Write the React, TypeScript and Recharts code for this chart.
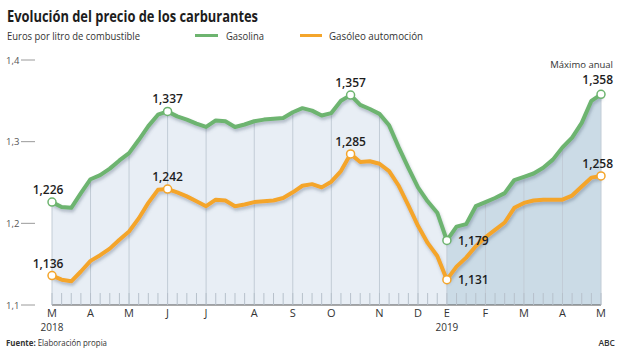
import React from 'react';
import { Area, ComposedChart, Line, ReferenceLine, XAxis, YAxis } from 'recharts';

// weekly average price, euros per litre (Mar 2018 -> May 2019)
const GASOLINA = [
  1.226, 1.22, 1.219, 1.237, 1.254, 1.259, 1.267, 1.277, 1.286, 1.302,
  1.319, 1.333, 1.337, 1.331, 1.327, 1.322, 1.318, 1.326, 1.325, 1.318,
  1.321, 1.325, 1.327, 1.328, 1.329, 1.336, 1.341, 1.338, 1.332, 1.335,
  1.35, 1.357, 1.345, 1.34, 1.334, 1.32, 1.293, 1.268, 1.244, 1.227,
  1.213, 1.179, 1.196, 1.199, 1.221, 1.226, 1.231, 1.237, 1.253, 1.257,
  1.261, 1.268, 1.278, 1.293, 1.305, 1.323, 1.35, 1.358,
];
const GASOLEO = [
  1.136, 1.131, 1.129, 1.141, 1.154, 1.161, 1.169, 1.18, 1.19, 1.206,
  1.225, 1.241, 1.242, 1.238, 1.233, 1.227, 1.221, 1.229, 1.228, 1.221,
  1.223, 1.226, 1.227, 1.228, 1.231, 1.238, 1.246, 1.248, 1.244, 1.251,
  1.264, 1.285, 1.275, 1.276, 1.273, 1.264, 1.246, 1.222, 1.197, 1.176,
  1.16, 1.131, 1.147, 1.158, 1.172, 1.183, 1.192, 1.201, 1.219, 1.225,
  1.228, 1.229, 1.229, 1.229, 1.234, 1.245, 1.256, 1.258,
];
const MONTH_LABELS = ['M', 'A', 'M', 'J', 'J', 'A', 'S', 'O', 'N', 'D', 'E', 'F', 'M', 'A', 'M'];
const MONTH_WEEKS = [0, 4, 8, 12, 16, 21, 25, 29, 34, 38, 41, 45, 49, 53, 57];
const YEAR_LABELS = ['2018', '2019'];
const YEAR_WEEKS = [0, 41];
const Y_TICKS = [1.1, 1.2, 1.3, 1.4];

const GREEN = '#6db46f';
const ORANGE = '#f4a52b';
const FILL_2018 = '#e8eef5';
const FILL_2019 = '#cbdbe6';
const TEXT = '#1d1d1d';
const FONT = "'Open Sans', sans-serif";

const data = GASOLINA.map((gasolina, week) => ({ week, gasolina, gasoleo: GASOLEO[week] }));
const split = YEAR_WEEKS[1] / (GASOLINA.length - 1);

const comma = (v: number, d: number) => v.toFixed(d).replace('.', ',');

type Callout = { week: number; pos: 'top' | 'right' | 'end'; dx?: number; dy?: number; note?: string };

const GAS_CALLOUTS: Callout[] = [
  { week: 0, pos: 'top', dx: -4 },
  { week: 12, pos: 'top' },
  { week: 31, pos: 'top' },
  { week: 41, pos: 'right' },
  { week: 57, pos: 'end', dy: -10, note: 'Máximo anual' },
];
const DIESEL_CALLOUTS: Callout[] = [
  { week: 0, pos: 'top', dx: -4 },
  { week: 12, pos: 'top' },
  { week: 31, pos: 'top' },
  { week: 41, pos: 'right' },
  { week: 57, pos: 'end', dy: -8 },
];

const makeDot = (key: 'gasolina' | 'gasoleo', color: string, callouts: Callout[]) => (props: any) => {
  const { cx, cy, index, payload } = props;
  const c = callouts.find((k) => k.week === index);
  if (!c) return <g key={`${key}-${index}`} />;
  const label = comma(payload[key], 3);
  let tx = cx;
  let ty = cy - 8;
  let anchor: 'middle' | 'start' | 'end' = 'middle';
  if (c.pos === 'right') {
    tx = cx + 11;
    ty = cy + 4.5;
    anchor = 'start';
  } else if (c.pos === 'end') {
    tx = cx + 12;
    ty = cy + (c.dy ?? -8);
    anchor = 'end';
  }
  tx += c.dx ?? 0;
  return (
    <g key={`${key}-${index}`}>
      <circle cx={cx} cy={cy} r={4} fill="#fff" stroke={color} strokeWidth={1.5} />
      <text x={tx} y={ty} textAnchor={anchor} fontFamily={FONT} fontSize={12} fontWeight={600} fill={TEXT}>
        {label}
      </text>
      {c.note && (
        <text x={tx} y={ty - 16} textAnchor={anchor} fontFamily={FONT} fontSize={9.5} fill="#333">
          {c.note}
        </text>
      )}
    </g>
  );
};

const WeekTick = (props: any) => {
  const { x, y, payload } = props;
  const week = payload.value as number;
  const m = MONTH_WEEKS.indexOf(week);
  const yr = YEAR_WEEKS.indexOf(week);
  return (
    <g>
      <line x1={x} x2={x} y1={y - 12} y2={y} stroke="#b7c1cb" strokeWidth={1} />
      {m >= 0 && (
        <text x={x} y={y + 12} textAnchor="middle" fontFamily={FONT} fontSize={11} fill="#333">
          {MONTH_LABELS[m]}
        </text>
      )}
      {yr >= 0 && (
        <text x={x} y={y + 26} textAnchor="middle" fontFamily={FONT} fontSize={10} fill="#333">
          {YEAR_LABELS[yr]}
        </text>
      )}
    </g>
  );
};

const PriceTick = (props: any) => {
  const { y, payload } = props;
  return (
    <g>
      <text x={6} y={y + 3.5} fontFamily={FONT} fontSize={9.5} fill="#555">
        {comma(payload.value, 1)}
      </text>
      <line x1={21} x2={35} y1={y} y2={y} stroke="#9a9a9a" strokeWidth={1} />
    </g>
  );
};

export default function App() {
  return (
    <div style={{ position: 'fixed', left: 0, top: 0, width: 620, height: 349, background: '#fff', overflow: 'hidden' }}>
      <svg width={620} height={349} style={{ position: 'absolute', left: 0, top: 0 }}>
        <defs>
          <linearGradient id="yearFill" x1="0" y1="0" x2="1" y2="0">
            <stop offset={0} stopColor={FILL_2018} />
            <stop offset={split} stopColor={FILL_2018} />
            <stop offset={split} stopColor={FILL_2019} />
            <stop offset={1} stopColor={FILL_2019} />
          </linearGradient>
          <filter id="lineShadow" x="-5%" y="-20%" width="110%" height="140%">
            <feDropShadow dx="1" dy="2.5" stdDeviation="1.8" floodColor="#44546a" floodOpacity="0.35" />
          </filter>
        </defs>
        <text x={7} y={22} fontFamily={FONT} fontSize={15.5} fontWeight={700} fill={TEXT} textLength={251} lengthAdjust="spacingAndGlyphs">
          Evolución del precio de los carburantes
        </text>
        <text x={7} y={39.5} fontFamily={FONT} fontSize={11.5} fill="#333" textLength={133} lengthAdjust="spacingAndGlyphs">
          Euros por litro de combustible
        </text>
        <line x1={195} x2={218} y1={35.5} y2={35.5} stroke={GREEN} strokeWidth={3} />
        <text x={226} y={39.5} fontFamily={FONT} fontSize={11.5} fill="#333" textLength={38} lengthAdjust="spacingAndGlyphs">
          Gasolina
        </text>
        <line x1={300} x2={322} y1={35.5} y2={35.5} stroke={ORANGE} strokeWidth={3} />
        <text x={329} y={39.5} fontFamily={FONT} fontSize={11.5} fill="#333" textLength={94} lengthAdjust="spacingAndGlyphs">
          Gasóleo automoción
        </text>
        <text x={6} y={346} fontFamily={FONT} fontSize={8.5} fill="#333" textLength={101} lengthAdjust="spacingAndGlyphs">
          <tspan fontWeight={700}>Fuente:</tspan> Elaboración propia
        </text>
        <text x={615} y={346} textAnchor="end" fontFamily={FONT} fontSize={8.5} fontWeight={600} fill="#333">
          ABC
        </text>
      </svg>
      <div style={{ position: 'absolute', left: 0, top: 0 }}>
        <ComposedChart width={620} height={349} data={data} margin={{ top: 60, right: 19, bottom: 0, left: 0 }}>
          <Area
            dataKey="gasolina"
            stroke="none"
            fill="url(#yearFill)"
            fillOpacity={1}
            isAnimationActive={false}
            activeDot={false}
          />
          {MONTH_WEEKS.map((w) => (
            <ReferenceLine
              key={w}
              segment={[
                { x: w, y: Y_TICKS[0] },
                { x: w, y: GASOLINA[w] },
              ]}
              stroke="#c2ccd6"
              strokeWidth={1}
            />
          ))}
          <XAxis
            dataKey="week"
            type="category"
            interval={0}
            height={44}
            tickLine={false}
            tickSize={0}
            tickMargin={0}
            axisLine={{ stroke: '#555' }}
            tick={<WeekTick />}
          />
          <YAxis
            domain={[Y_TICKS[0], Y_TICKS[Y_TICKS.length - 1]]}
            ticks={Y_TICKS}
            width={52}
            axisLine={false}
            tickLine={false}
            tick={<PriceTick />}
          />
          <Line
            dataKey="gasolina"
            stroke={GREEN}
            strokeWidth={4}
            strokeLinejoin="round"
            filter="url(#lineShadow)"
            dot={makeDot('gasolina', GREEN, GAS_CALLOUTS)}
            activeDot={false}
            isAnimationActive={false}
          />
          <Line
            dataKey="gasoleo"
            stroke={ORANGE}
            strokeWidth={4}
            strokeLinejoin="round"
            filter="url(#lineShadow)"
            dot={makeDot('gasoleo', ORANGE, DIESEL_CALLOUTS)}
            activeDot={false}
            isAnimationActive={false}
          />
        </ComposedChart>
      </div>
    </div>
  );
}
